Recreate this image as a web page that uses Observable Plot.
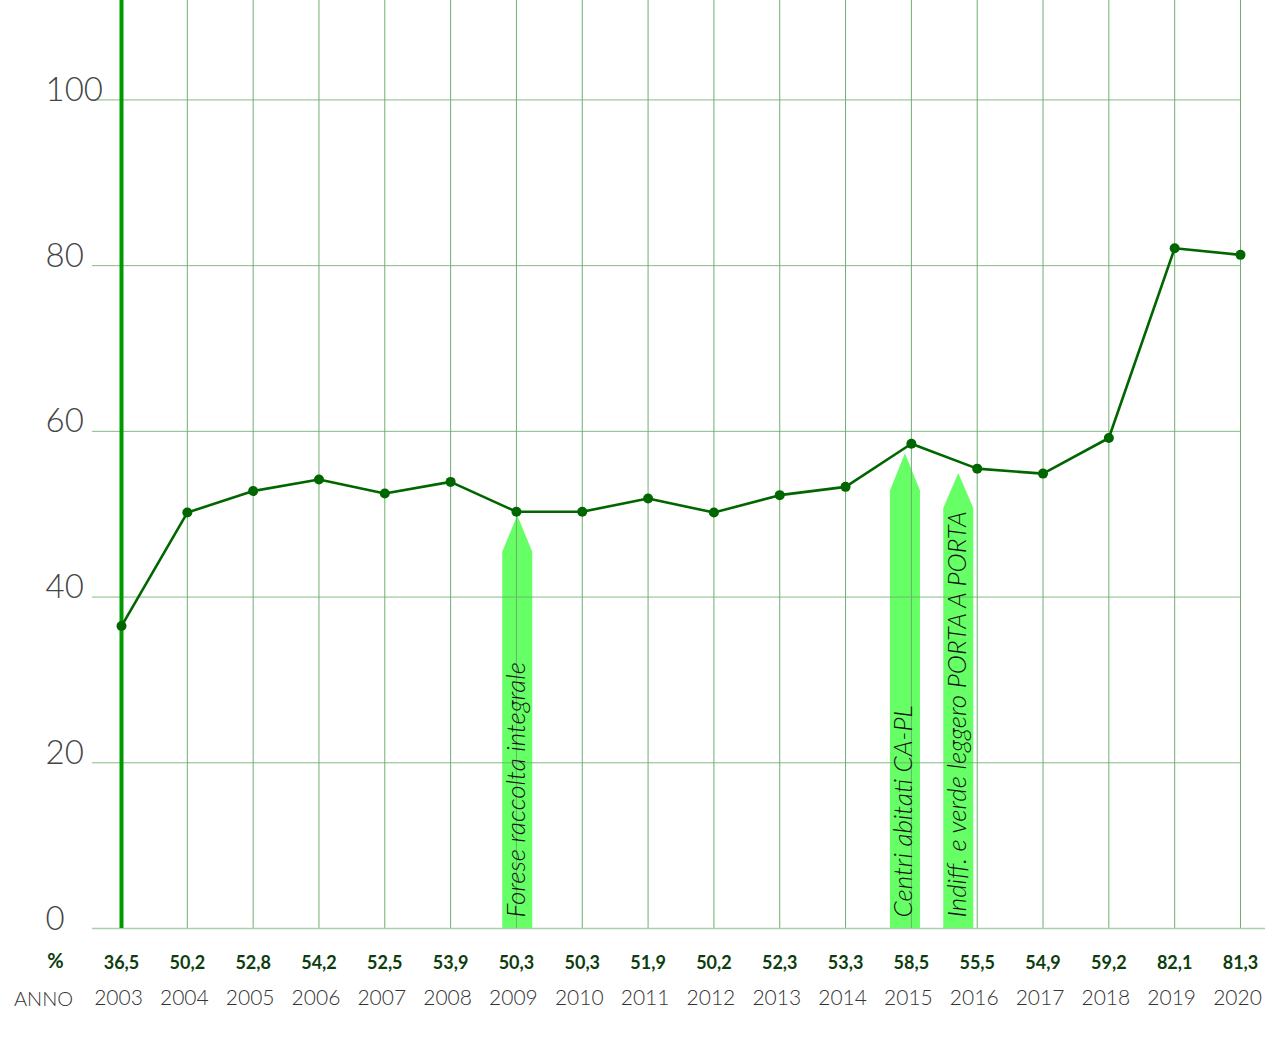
<!DOCTYPE html>
<html>
<head>
<meta charset="utf-8">
<script src="https://cdn.jsdelivr.net/npm/d3@7"></script>
<script src="https://cdn.jsdelivr.net/npm/@observablehq/plot@0.6"></script>
<style>
  html, body { margin: 0; padding: 0; background: #fff; }
  #chart svg { display: block; }
</style>
</head>
<body>
<div id="chart"></div>
<script>
// ---- data ----
const years = [2003, 2004, 2005, 2006, 2007, 2008, 2009, 2010, 2011, 2012, 2013, 2014, 2015, 2016, 2017, 2018, 2019, 2020];
const values = [36.5, 50.2, 52.8, 54.2, 52.5, 53.9, 50.3, 50.3, 51.9, 50.2, 52.3, 53.3, 58.5, 55.5, 54.9, 59.2, 82.1, 81.3];
const valueLabels = ["36,5", "50,2", "52,8", "54,2", "52,5", "53,9", "50,3", "50,3", "51,9", "50,2", "52,3", "53,3", "58,5", "55,5", "54,9", "59,2", "82,1", "81,3"];
const yTicks = [0, 20, 40, 60, 80, 100];

// annotation arrows
const arrowX = [2009.02, 2014.91, 2015.72];
const arrowTip = [49.8, 57.3, 54.9];
const arrowShoulder = [45.4, 52.8, 50.7];
const arrowLabels = ["Forese raccolta integrale", "Centri abitati CA-PL", "Indiff. e verde leggero PORTA A PORTA"];

// ---- build tables ----
const series = years.map((y, i) => ({year: y, value: values[i], label: valueLabels[i]}));
const halfW = 0.228; // arrow half-width in years
const arrowPts = [];
arrowX.forEach((x, i) => {
  arrowPts.push({id: i, x: x - halfW, y: arrowShoulder[i]});
  arrowPts.push({id: i, x: x, y: arrowTip[i]});
  arrowPts.push({id: i, x: x + halfW, y: arrowShoulder[i]});
});
const arrows = arrowX.map((x, i) => ({x, label: arrowLabels[i]}));

const FONT = "Lato, 'Source Sans Pro', 'Open Sans', sans-serif";
const gridColor = "#6fae6f";
const leftX = 2002.56;

const chart = Plot.plot({
  width: 1281,
  height: 1038,
  marginLeft: 121,
  marginRight: 41,
  marginTop: 0,
  marginBottom: 110,
  style: {fontFamily: FONT, background: "#fff"},
  x: {type: "linear", domain: [2003, 2020], axis: null},
  y: {domain: [0, 112], axis: null},
  marks: [
    // arrows
    Plot.area(arrowPts, {x1: "x", y1: 0, y2: "y", z: "id", fill: "#66ff66", curve: "linear"}),
    // vertical grid
    Plot.ruleX(years.slice(1), {y1: 0, y2: 112, stroke: gridColor, strokeWidth: 1}),
    // horizontal grid
    Plot.ruleY(yTicks.filter(d => d > 0), {x1: leftX, x2: 2020, stroke: gridColor, strokeWidth: 1, strokeOpacity: 0.85}),
    Plot.ruleY([0], {x1: leftX, x2: 2020.38, stroke: "#a6d2a6", strokeWidth: 1.5}),
    // first-year marker line
    Plot.ruleX([2003], {y1: 0, y2: 112, stroke: "#009900", strokeWidth: 4}),
    // arrow labels
    Plot.text(arrows, {x: "x", y: 0, text: "label", rotate: -90, textAnchor: "start", lineAnchor: "bottom",
      dx: 7, dy: -11, fontSize: 26, fontStyle: "italic", fontWeight: 300, fill: "#111"}),
    // y tick labels
    Plot.text(yTicks, {x: 2003, y: d => d, text: d => String(d), textAnchor: "start", lineAnchor: "bottom",
      dx: -76, dy: 1, fontSize: 33, fontWeight: 300, fill: "#444"}),
    // series
    Plot.line(series, {x: "year", y: "value", stroke: "#006600", strokeWidth: 2.6}),
    Plot.dot(series, {x: "year", y: "value", r: 5, fill: "#006600"}),
    // value labels row
    Plot.text(series, {x: "year", y: 0, text: "label", dy: 35, fontSize: 18, fontWeight: 700, fill: "#0d3d0d"}),
    Plot.text(["%"], {x: 2003, y: 0, text: d => d, dx: -66, dy: 33, fontSize: 20, fontWeight: 700, fill: "#0d3d0d"}),
    // year labels row
    Plot.text(series, {x: "year", y: 0, text: d => String(d.year), dx: -3, dy: 70, fontSize: 21, fontWeight: 300, fill: "#333"}),
    Plot.text(["ANNO"], {x: 2003, y: 0, text: d => d, dx: -78, dy: 71, fontSize: 20, fontWeight: 300, fill: "#333"})
  ]
});
document.getElementById("chart").append(chart);
</script>
</body>
</html>
